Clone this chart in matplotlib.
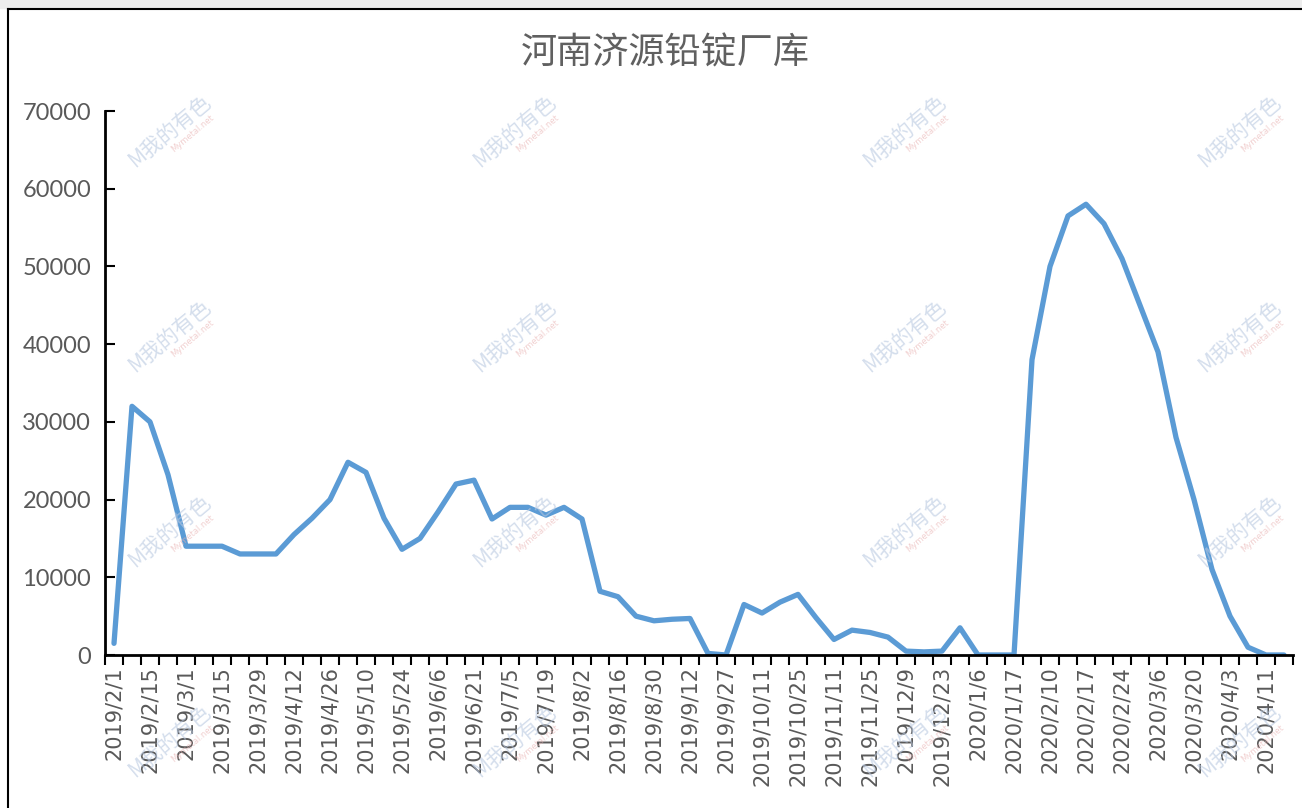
import matplotlib
matplotlib.use('Agg')
import matplotlib.pyplot as plt
import numpy as np

# Weekly inventory of lead ingots at Jiyuan (Henan) plants
shown_dates = ['2019/2/1', '2019/2/15', '2019/3/1', '2019/3/15', '2019/3/29', '2019/4/12',
               '2019/4/26', '2019/5/10', '2019/5/24', '2019/6/6', '2019/6/21', '2019/7/5',
               '2019/7/19', '2019/8/2', '2019/8/16', '2019/8/30', '2019/9/12', '2019/9/27',
               '2019/10/11', '2019/10/25', '2019/11/11', '2019/11/25', '2019/12/9', '2019/12/23',
               '2020/1/6', '2020/1/17', '2020/2/10', '2020/2/17', '2020/2/24', '2020/3/6',
               '2020/3/20', '2020/4/3', '2020/4/11']

stock = [1500, 32000, 30000, 23200, 14000, 14000, 14000, 13000, 13000, 13000,
         15500, 17600, 20000, 24800, 23500, 17600, 13600, 15000, 18400, 22000,
         22500, 17500, 19000, 19000, 18000, 19000, 17500, 8200, 7500, 5000,
         4400, 4600, 4700, 200, 0, 6500, 5400, 6800, 7800, 4800,
         2000, 3200, 2900, 2300, 500, 400, 500, 3500, 0, 0,
         0, 38000, 50000, 56500, 58000, 55500, 51000, 45000, 39000, 28000,
         20000, 11000, 5000, 1000, 0, 0]

title = '河南济源铅锭厂库'
text_color = '#595959'
line_color = '#5B9BD5'

fig = plt.figure(figsize=(13.02, 8.08), dpi=100)
fig.patch.set_facecolor('white')

# screenshot frame: grey strip on top, black border
fig.patches.append(plt.Rectangle((0, 1 - 8 / 808), 1, 8 / 808, transform=fig.transFigure,
                                 color='#EDEDED', zorder=0))
fig.add_artist(plt.Line2D([8 / 1302, 8 / 1302], [0, 1 - 9 / 808], transform=fig.transFigure,
                          color='black', lw=1.5))
fig.add_artist(plt.Line2D([8 / 1302, 1], [1 - 9 / 808, 1 - 9 / 808], transform=fig.transFigure,
                          color='black', lw=1.5))

ax = fig.add_axes([105 / 1302, 1 - 655 / 808, (1293 - 105) / 1302, (655 - 111) / 808])
x = np.arange(len(stock))
ax.plot(x, stock, color=line_color, lw=3.8, solid_joinstyle='round', solid_capstyle='round',
        zorder=3)

ax.set_xlim(-0.5, len(stock) - 0.5)
ax.set_ylim(0, 70000)
ax.set_yticks(np.arange(0, 70001, 10000))
ax.set_yticklabels([str(v) for v in range(0, 70001, 10000)], fontsize=17,
                   family='Lato', color=text_color)
ax.tick_params(axis='y', direction='in', length=7, width=1.5, pad=10)

ax.set_xticks(np.arange(0, len(stock), 2))
ax.set_xticklabels(shown_dates, rotation=90, fontsize=15, family='DejaVu Sans',
                   color=text_color)
ax.set_xticks(np.arange(-0.5, len(stock), 1), minor=True)
ax.tick_params(axis='x', which='major', length=0, pad=8)
ax.tick_params(axis='x', which='minor', direction='out', length=7, width=1.5)

for s in ['top', 'right']:
    ax.spines[s].set_visible(False)
for s in ['left', 'bottom']:
    ax.spines[s].set_linewidth(2)
    ax.spines[s].set_zorder(4)

fig.text(665 / 1302, 1 - 53 / 808, title, ha='center', va='center', fontsize=26,
         family=['Noto Sans CJK SC', 'DejaVu Sans'], color='#606060')

# faint site watermarks
wm_x = [170, 515, 905, 1240]
wm_y = [130, 335, 530, 740]
for wy in wm_y:
    for wx in wm_x:
        fig.text(wx / 1302, 1 - wy / 808, 'M我的有色', rotation=40, ha='center', va='center',
                 fontsize=15, family=['Noto Sans CJK SC', 'DejaVu Sans'],
                 color='#B8C8E0', alpha=0.6, zorder=5)
        fig.text((wx + 22) / 1302, 1 - (wy + 4) / 808, 'Mymetal.net', rotation=40,
                 ha='center', va='center', fontsize=6, color='#E8B0B0', alpha=0.6, zorder=5)

fig.savefig('out.png', dpi=100)
